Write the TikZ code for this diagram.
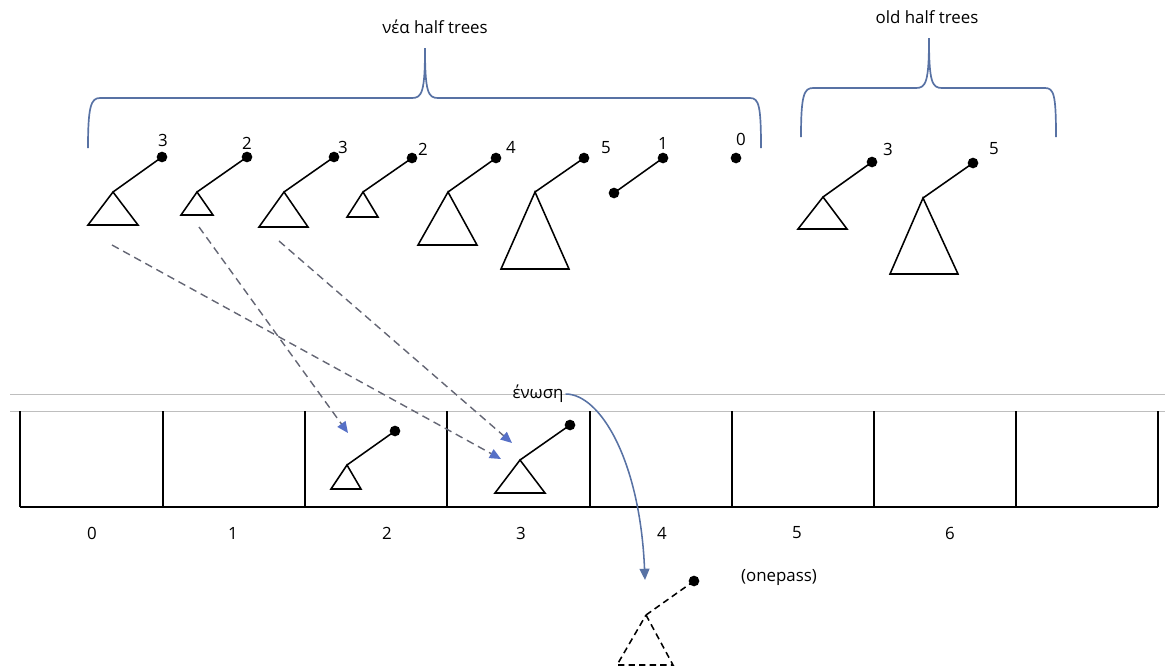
\documentclass[tikz,border=0pt]{standalone}
\usepackage{fontspec}
\setmainfont{Open Sans}
\usetikzlibrary{arrows.meta}
\definecolor{bracecol}{RGB}{88,114,164}
\definecolor{dashcol}{RGB}{100,102,116}
\definecolor{tipcol}{RGB}{86,112,198}
\definecolor{rulecol}{RGB}{190,190,190}
\tikzset{
  movearrow/.style={dashcol, line width=1pt, dash pattern=on 5.5pt off 3.5pt,
    -{Triangle[length=8pt,width=7pt,color=tipcol]}},
  unionarrow/.style={bracecol, line width=1.1pt, -{Triangle[length=8pt,width=7pt]}}
}
\begin{document}
\begin{tikzpicture}[x=0.025cm,y=-0.025cm,line width=1.1pt,font=\fontsize{12}{14}\selectfont]
\useasboundingbox (0,0) rectangle (1165,667);

% graffe in alto
\begin{scope}[bracecol, line width=1.2pt]
\node[black] (newlbl) at (435,27) {νέα half trees};
\draw (88,148) .. controls (88,106) and (91,98) .. (100,98) -- (412,98)
  .. controls (422,98) and (425,92) .. (425,48)
  .. controls (425,92) and (428,98) .. (438,98) -- (750,98)
  .. controls (759,98) and (761,106) .. (761,148);
\node[black] (oldlbl) at (927,17) {old half trees};
\draw (801,137) .. controls (801,95) and (804,88) .. (813,88) -- (916,88)
  .. controls (926,88) and (929,82) .. (929,38)
  .. controls (929,82) and (932,88) .. (942,88) -- (1045,88)
  .. controls (1054,88) and (1056,95) .. (1056,137);
\end{scope}

% half trees nuovi
\draw (113,192) coordinate (a1) -- (162,157) coordinate (d1);
\draw (a1) -- (138,225) -- (88,225) -- cycle;
\fill (d1) circle (3.8pt) node (n1) at (163,140) {3};

\draw (197,192) coordinate (a2) -- (247,157) coordinate (d2);
\draw (a2) -- (213,215) -- (181,215) -- cycle;
\fill (d2) circle (3.8pt) node (n2) at (247,143) {2};

\draw (284,192) coordinate (a3) -- (334,157) coordinate (d3);
\draw (a3) -- (308,227) -- (259,227) -- cycle;
\fill (d3) circle (3.8pt) node (n3) at (343,147) {3};

\draw (363,192) coordinate (a4) -- (412,158) coordinate (d4);
\draw (a4) -- (378,217) -- (347,217) -- cycle;
\fill (d4) circle (3.8pt) node (n4) at (423,149) {2};

\draw (448,192) coordinate (a5) -- (496,158) coordinate (d5);
\draw (a5) -- (477,245) -- (418,245) -- cycle;
\fill (d5) circle (3.8pt) node (n5) at (511,147) {4};

\draw (535,192) coordinate (a6) -- (584,158) coordinate (d6);
\draw (a6) -- (569,269) -- (501,269) -- cycle;
\fill (d6) circle (3.8pt) node (n6) at (606,148) {5};

\draw (614,193) coordinate (a7) -- (663,158) coordinate (d7);
\fill (a7) circle (3.8pt);
\fill (d7) circle (3.8pt) node (n7) at (663,143) {1};

\fill (736,158) coordinate (d8) circle (3.8pt) node (n8) at (741,139) {0};

% half trees vecchi
\draw (823,197) coordinate (b1) -- (872,162) coordinate (e1);
\draw (b1) -- (847,229) -- (798,229) -- cycle;
\fill (e1) circle (3.8pt) node (m1) at (888,149) {3};

\draw (923,198) coordinate (b2) -- (973,163) coordinate (e2);
\draw (b2) -- (958,274) -- (890,274) -- cycle;
\fill (e2) circle (3.8pt) node (m2) at (994,149) {5};

% tabella
\draw[rulecol, line width=0.6pt] (10,394) -- (1165,394);
\draw[rulecol, line width=0.6pt] (10,411) -- (1165,411);
\begin{scope}[line width=1.4pt]
\draw (20,507) -- (1158,507);
\foreach \x in {20,163,305,447,590,732,874,1016,1158}
  \draw (\x,411) -- (\x,507);
\end{scope}
\foreach \i/\x in {0/92,1/233,2/387,3/521,4/662,5/797,6/950}
  \node (idx\i) at (\x,533) {\i};

% alberi nelle celle 2 e 3
\draw (347,465) coordinate (c2) -- (395,431) coordinate (f2);
\draw (c2) -- (361,489) -- (331,489) -- cycle;
\fill (f2) circle (3.8pt);
\draw (520,460) coordinate (c3) -- (570,425) coordinate (f3);
\draw (c3) -- (545,493) -- (495,493) -- cycle;
\fill (f3) circle (3.8pt);

% spostamenti
\coordinate (s1) at (112,245);
\coordinate (s2) at (199,227);
\coordinate (s3) at (279,241);
\coordinate (t1) at (501,459);
\coordinate (t2) at (348,433);
\coordinate (t3) at (512,443);
\draw[movearrow] (s1) -- (t1);
\draw[movearrow] (s2) -- (t2);
\draw[movearrow] (s3) -- (t3);

% ένωση
\node[inner sep=1pt] (union) at (538,394) {ένωση};
\coordinate (down) at (645,580);
\draw[unionarrow] (union.east) .. controls (600,394) and (640,460) .. (down);

% risultato
\begin{scope}[dash pattern=on 4.5pt off 3pt]
\draw (646,615) coordinate (g1) -- (694,581) coordinate (h1);
\draw (g1) -- (673,665) -- (617,665) -- cycle;
\end{scope}
\fill (h1) circle (3.8pt);
\node (onepass) at (779,577) {(onepass)};
\end{tikzpicture}
\end{document}
